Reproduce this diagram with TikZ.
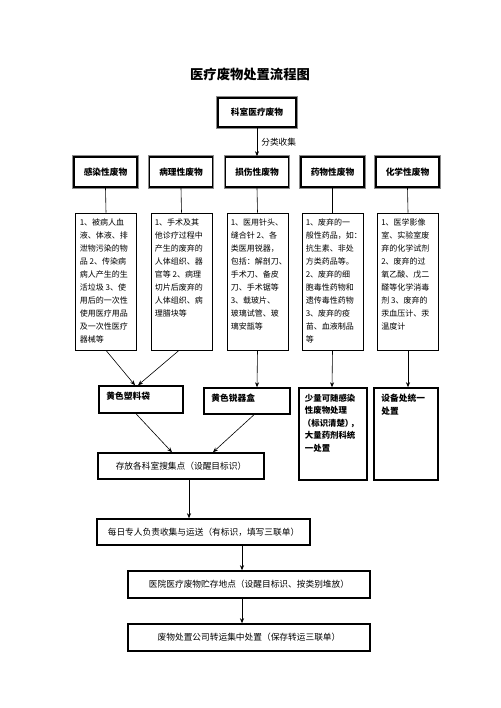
\documentclass[tikz,border=0pt]{standalone}
\usepackage{fontspec}
\setmainfont{Noto Sans CJK SC}
\usetikzlibrary{arrows.meta}
\tikzset{
  dblbox/.style={draw=black, line width=1.6pt, fill=white,
    preaction={draw=black!45, line width=3.6pt},
    inner sep=0pt, font=\fontsize{8.7}{10}\selectfont\bfseries},
  catbox/.style={dblbox, minimum width=63pt, minimum height=30pt},
  descbox/.style={draw=black, line width=0.8pt, minimum width=61pt, minimum height=137pt, inner sep=0pt},
  desctext/.style={anchor=north west, align=left, inner sep=0pt, font=\fontsize{8}{13}\selectfont},
  thickbox/.style={draw=black, line width=1.5pt, inner sep=0pt, font=\fontsize{8.7}{10}\selectfont},
  boxtext/.style={align=left, inner sep=0pt, font=\fontsize{8.7}{12.5}\selectfont\bfseries},
  link/.style={draw=black, line width=0.6pt},
  arr/.style={link, -{Stealth[length=5pt,width=4pt]}},
}
\begin{document}
\begin{tikzpicture}[x=1pt,y=-1pt]
\useasboundingbox[fill=white] (0,0) rectangle (500,708);

\node[font=\fontsize{13.3}{15}\selectfont\bfseries] (title) at (250,74) {医疗废物处置流程图};

\node[dblbox, minimum width=78pt, minimum height=29pt] (top) at (257,112.5) {科室医疗废物};

\node[catbox] (c1) at (105.5,172) {感染性废物};
\node[catbox] (c2) at (181,172) {病理性废物};
\node[catbox] (c3) at (257,172) {损伤性废物};
\node[catbox] (c4) at (332.5,172) {药物性废物};
\node[catbox] (c5) at (407.5,172) {化学性废物};

\draw[arr] (top.south) -- (c3.north) node[pos=0.5, right=4pt, inner sep=0pt, font=\fontsize{8.7}{10}\selectfont] (lab) {分类收集};

\node[descbox] (d1) at (106,281.5) {};
\node[descbox] (d2) at (181.5,281.5) {};
\node[descbox] (d3) at (257.5,281.5) {};
\node[descbox] (d4) at (332.5,281.5) {};
\node[descbox] (d5) at (408,281.5) {};

\node[desctext] (t1) at ([xshift=4.5pt,yshift=-5.5pt]d1.north west) {1、被病人血\\液、体液、排\\泄物污染的物\\品 2、传染病\\病人产生的生\\活垃圾 3、使\\用后的一次性\\使用医疗用品\\及一次性医疗\\器械等};
\node[desctext] (t2) at ([xshift=4pt,yshift=-5.5pt]d2.north west) {1、手术及其\\他诊疗过程中\\产生的废弃的\\人体组织、器\\官等 2、病理\\切片后废弃的\\人体组织、病\\理腊块等};
\node[desctext] (t3) at ([xshift=4pt,yshift=-5.5pt]d3.north west) {1、医用针头、\\缝合针 2、各\\类医用锐器，\\包括：解剖刀、\\手术刀、备皮\\刀、手术锯等\\3、载玻片、\\玻璃试管、玻\\璃安瓿等};
\node[desctext] (t4) at ([xshift=4pt,yshift=-5.5pt]d4.north west) {1、废弃的一\\般性药品，如：\\抗生素、非处\\方类药品等。\\2、废弃的细\\胞毒性药物和\\遗传毒性药物\\3、废弃的疫\\苗、血液制品\\等};
\node[desctext] (t5) at ([xshift=4pt,yshift=-5.5pt]d5.north west) {1、医学影像\\室、实验室废\\弃的化学试剂\\2、废弃的过\\氧乙酸、戊二\\醛等化学消毒\\剂 3、废弃的\\汞血压计、汞\\温度计};

\foreach \i in {1,...,5} { \draw[link] (c\i.south) -- (d\i.north); }

\node[thickbox, minimum width=84pt, minimum height=27pt] (bag) at (141,399.5) {};
\node[thickbox, minimum width=86pt, minimum height=26pt] (sharp) at (247,401) {};
\node[thickbox, minimum width=68pt, minimum height=92pt] (drug) at (333,434) {};
\node[thickbox, minimum width=64pt, minimum height=92pt] (chem) at (406,434) {};

\node[boxtext, anchor=west] (bagt) at ([xshift=8pt,yshift=-11pt]bag.north west) {黄色塑料袋};
\node[boxtext, anchor=west] (sharpt) at ([xshift=8pt,yshift=-11pt]sharp.north west) {黄色锐器盒};
\node[boxtext, anchor=north west, font=\fontsize{8.4}{12.5}\selectfont\bfseries] (drugt) at ([xshift=6.5pt,yshift=-6.5pt]drug.north west) {少量可随感染\\性废物处理\\\kern-2pt（标识清楚）\kern-3pt，\\大量药剂科统\\一处置};
\node[boxtext, anchor=north west] (chemt) at ([xshift=8pt,yshift=-6.5pt]chem.north west) {设备处统一\\处置};

\draw[arr] (d1.south) -- ([xshift=-6pt]bag.north);
\draw[arr] ([xshift=-2.5pt]d2.south) -- ([xshift=-3pt]bag.north);
\draw[arr] (d3.south) -- ([xshift=10pt]sharp.north);
\draw[arr] (d4.south) -- ([xshift=-1pt]drug.north);
\draw[arr] (d5.south) -- ([xshift=2pt]chem.north);

\node[thickbox, minimum width=166pt, minimum height=26pt] (store) at (181,466) {存放各科室搜集点（设醒目标识）};
\node[thickbox, minimum width=213pt, minimum height=26pt] (daily) at (203.5,532) {每日专人负责收集与运送（有标识，填写三联单）};
\node[thickbox, minimum width=242pt, minimum height=27pt] (hosp) at (249,584.5) {医院医疗废物贮存地点（设醒目标识、按类别堆放）};
\node[thickbox, minimum width=242pt, minimum height=27pt] (comp) at (249,637.5) {废物处置公司转运集中处置（保存转运三联单）};

\draw[arr] ([xshift=-5pt]bag.south) -- ([xshift=-9pt]store.north);
\draw[arr] ([xshift=7pt]sharp.south) -- ([xshift=32pt]store.north);
\draw[arr] ([xshift=8pt]store.south) -- ([xshift=-14.5pt]daily.north);
\draw[arr] ([xshift=38.5pt]daily.south) -- ([xshift=-7pt]hosp.north);
\draw[arr] ([xshift=-7pt]hosp.south) -- ([xshift=-7pt]comp.north);
\end{tikzpicture}
\end{document}
